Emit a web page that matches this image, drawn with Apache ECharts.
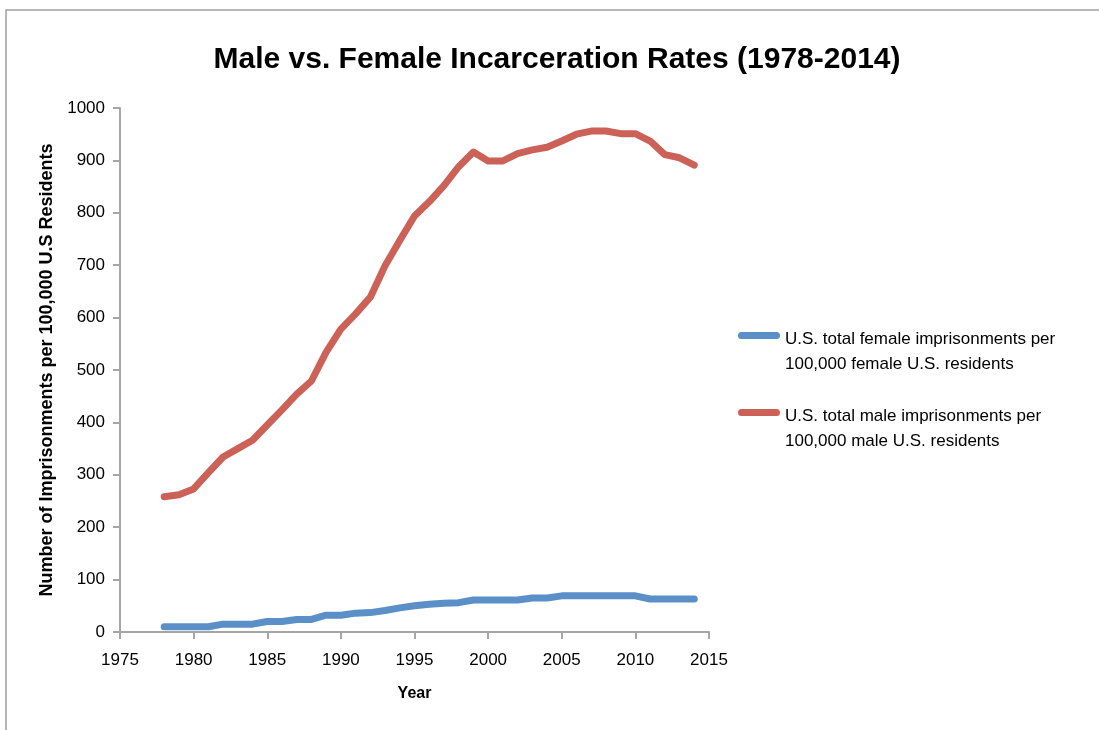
<!DOCTYPE html>
<html>
<head>
<meta charset="utf-8">
<script src="https://cdn.jsdelivr.net/npm/echarts@6/dist/echarts.min.js"></script>
<style>
html,body{margin:0;padding:0;background:#fff;}
#chart{width:1099px;height:730px;}
</style>
</head>
<body>
<div id="chart"></div>
<script>
const years = [1978,1979,1980,1981,1982,1983,1984,1985,1986,1987,1988,1989,1990,1991,1992,1993,1994,1995,1996,1997,1998,1999,2000,2001,2002,2003,2004,2005,2006,2007,2008,2009,2010,2011,2012,2013,2014];
const femaleRates = [10,10,10,10,15,15,15,20,20,24,24,32,32,36,37,41,46,50,53,55,56,61,61,61,61,65,65,69,69,69,69,69,69,63,63,63,63];
const maleRates = [258,262,273,304,334,350,366,395,424,454,479,534,578,607,639,699,747,794,821,852,888,916,899,899,913,920,925,937,950,956,956,951,951,937,911,905,891];
const seriesNames = ['U.S. total female imprisonments per 100,000 female U.S. residents','U.S. total male imprisonments per 100,000 male U.S. residents'];
const legendLines = {
  'U.S. total female imprisonments per 100,000 female U.S. residents': 'U.S. total female imprisonments per\n100,000 female U.S. residents',
  'U.S. total male imprisonments per 100,000 male U.S. residents': 'U.S. total male imprisonments per\n100,000 male U.S. residents'
};
const titleText = 'Male vs. Female Incarceration Rates (1978-2014)';
const xAxisName = 'Year';
const yAxisName = 'Number of Imprisonments per 100,000 U.S Residents';
const colors = ['#5a8fc8','#cc6157'];

const chart = echarts.init(document.getElementById('chart'), null, {renderer:'canvas'});
const font = 'Liberation Sans';
const legendIcon = 'path://M3.5 5H38.5A3.5 3.5 0 0 1 38.5 12H3.5A3.5 3.5 0 0 1 3.5 5Z M0 0H0.01 M0 50H0.01';
const mk = (vals) => years.map((y,i)=>[y, vals[i]]);

chart.setOption({
  animation:false,
  backgroundColor:'#fff',
  title:{
    text:titleText, left:552, top:40, textAlign:'center',
    textStyle:{fontFamily:font, fontWeight:'bold', fontSize:30, color:'#000'}
  },
  graphic:[{
    type:'rect', shape:{x:6,y:10,width:1200,height:800}, silent:true,
    style:{fill:'none', stroke:'#a0a0a0', lineWidth:1.5}
  }],
  grid:{left:120, right:390, top:108, bottom:98, containLabel:false},
  legend:{
    orient:'vertical', left:738, top:327, padding:0, itemWidth:42, itemHeight:50, itemGap:27,
    icon:legendIcon,
    itemStyle:{borderWidth:0},
    data:seriesNames,
    formatter:(n)=>legendLines[n],
    textStyle:{fontFamily:font, fontSize:17, lineHeight:25, color:'#000'}
  },
  xAxis:{
    type:'value', min:1975, max:2015, interval:5,
    name:xAxisName, nameLocation:'middle', nameGap:54,
    nameTextStyle:{fontFamily:font, fontWeight:'bold', fontSize:16, color:'#000'},
    axisLine:{lineStyle:{color:'#a6a6a6', width:2}},
    axisTick:{show:true, inside:false, length:7, lineStyle:{color:'#a6a6a6', width:2}},
    axisLabel:{fontFamily:font, fontSize:17, color:'#000', margin:20, formatter:(v)=>String(v)},
    splitLine:{show:false}
  },
  yAxis:{
    type:'value', min:0, max:1000, interval:100,
    name:yAxisName, nameLocation:'middle', nameGap:62, nameRotate:90,
    nameTextStyle:{fontFamily:font, fontWeight:'bold', fontSize:18, color:'#000'},
    axisLine:{show:true, lineStyle:{color:'#a6a6a6', width:2}},
    axisTick:{show:true, inside:false, length:7, lineStyle:{color:'#a6a6a6', width:2}},
    axisLabel:{fontFamily:font, fontSize:17, color:'#000', margin:15, formatter:(v)=>String(v)},
    splitLine:{show:false}
  },
  series:[
    {name:seriesNames[0], type:'line', data:mk(femaleRates), showSymbol:false, symbol:'none',
     color:colors[0], lineStyle:{width:7, color:colors[0], cap:'round', join:'round'}},
    {name:seriesNames[1], type:'line', data:mk(maleRates), showSymbol:false, symbol:'none',
     color:colors[1], lineStyle:{width:7, color:colors[1], cap:'round', join:'round'}}
  ]
});
</script>
</body>
</html>
